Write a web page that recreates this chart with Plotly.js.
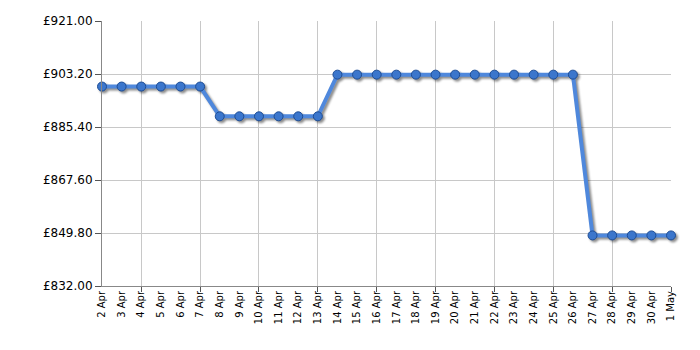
<!DOCTYPE html>
<html>
<head>
<meta charset="utf-8">
<script src="https://cdn.plot.ly/plotly-3.0.1.min.js"></script>
<style>
html,body{margin:0;padding:0;background:#fff;}
#chart{width:700px;height:350px;}
.scatterlayer .trace{filter:drop-shadow(2px 2px 1px rgba(0,0,0,0.45));}
</style>
</head>
<body>
<div id="chart"></div>
<script>
const dates = ["2 Apr","3 Apr","4 Apr","5 Apr","6 Apr","7 Apr","8 Apr","9 Apr","10 Apr","11 Apr","12 Apr","13 Apr","14 Apr","15 Apr","16 Apr","17 Apr","18 Apr","19 Apr","20 Apr","21 Apr","22 Apr","23 Apr","24 Apr","25 Apr","26 Apr","27 Apr","28 Apr","29 Apr","30 Apr","1 May"];
const prices = [898.99,898.99,898.99,898.99,898.99,898.99,888.99,888.99,888.99,888.99,888.99,888.99,902.99,902.99,902.99,902.99,902.99,902.99,902.99,902.99,902.99,902.99,902.99,902.99,902.99,848.99,848.99,848.99,848.99,848.99];
const yTicks = [832,849.8,867.6,885.4,903.2,921];
const yTickText = ["\u00a3832.00","\u00a3849.80","\u00a3867.60","\u00a3885.40","\u00a3903.20","\u00a3921.00"];
const gridIdx = [2,5,8,11,14,17,20,23,26,29];

const idx = dates.map((d,i)=>i);

const trace = {
  x: idx, y: prices, type: 'scatter', mode: 'lines+markers',
  line: {color: '#4f88dc', width: 4},
  marker: {size: 9, color: '#3b76cc', line: {color: '#1d4c94', width: 1}},
  cliponaxis: false, hoverinfo: 'none'
};

const layout = {
  width: 700, height: 350,
  margin: {l: 102, r: 29, t: 21, b: 64},
  paper_bgcolor: '#fff', plot_bgcolor: '#fff',
  showlegend: false,
  font: {family: 'DejaVu Sans, Verdana, sans-serif', color: '#000'},
  xaxis: {
    range: [0, dates.length - 1],
    tickmode: 'array', tickvals: idx, ticktext: dates,
    tickangle: -90, tickfont: {size: 10},
    ticks: '', showgrid: false, zeroline: false,
    showline: true, linecolor: '#888', linewidth: 1
  },
  xaxis2: {
    overlaying: 'x', anchor: 'y', side: 'bottom',
    range: [0, dates.length - 1],
    tickmode: 'array', tickvals: gridIdx,
    ticks: 'outside', ticklen: 5, tickcolor: '#555',
    showticklabels: false, showgrid: true, gridcolor: '#c8c8c8', gridwidth: 1,
    zeroline: false, showline: false, layer: 'below traces'
  },
  yaxis: {
    range: [yTicks[0], yTicks[yTicks.length-1]],
    tickmode: 'array', tickvals: yTicks, ticktext: yTickText,
    tickfont: {size: 12},
    ticks: 'outside', ticklen: 6, tickcolor: '#555',
    showgrid: true, gridcolor: '#c8c8c8', gridwidth: 1,
    zeroline: false, showline: true, linecolor: '#888', linewidth: 1,
    mirror: false
  }
};

const helper = {x: [0, dates.length-1], y: [prices[0], prices[0]], xaxis: 'x2', yaxis: 'y', type: 'scatter', mode: 'none', hoverinfo: 'none', showlegend: false};

Plotly.newPlot('chart', [helper, trace], layout, {staticPlot: true, displayModeBar: false});
</script>
</body>
</html>
